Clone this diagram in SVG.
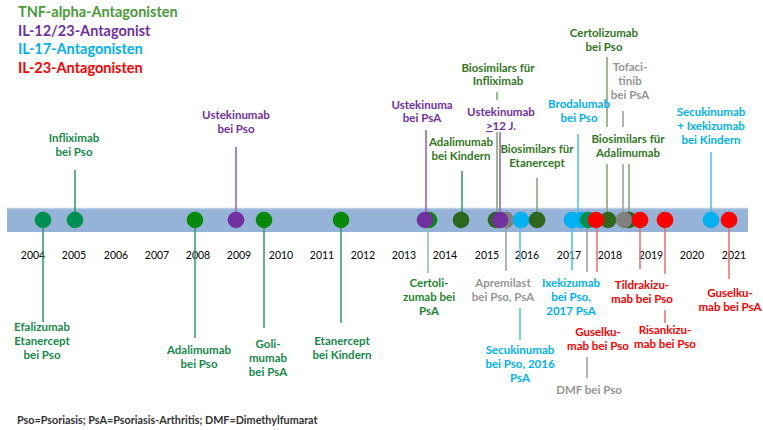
<svg xmlns="http://www.w3.org/2000/svg" width="763" height="430" viewBox="0 0 763 430">
<style>
text{font-family:Lato,"Liberation Sans",sans-serif;font-weight:bold;font-size:11.5px;text-anchor:middle}
.yr{font-weight:normal;font-size:10.5px;fill:#000}
.lg{font-size:14.5px;text-anchor:start}
.tg{fill:#17884A}
.dg{fill:#33761F}
.mg{fill:#25852F}
.pu{fill:#7030A0}
.cy{fill:#00B0F0}
.rd{fill:#FF0000}
.gy{fill:#959595}
line{stroke-width:1.5}
.ltg{stroke:#2A9A62}
.ldg{stroke:#7EA36E}
.lpu{stroke:#8E5CBA}
.lcy{stroke:#45C0EE}
.lrd{stroke:#F26A6A}
.lgy{stroke:#9A9A9A}
.lmg{stroke:#86C39F}
.cteal{fill:#009152}
.cgreen{fill:#078A0A}
.cdg{fill:#2E661C}
.cpu{fill:#7030A0}
.ccy{fill:#00B0F0}
.crd{fill:#FF0000}
.cgy{fill:#808080}
</style>
<g id="legend">
<text class="lg" x="18" y="17" fill="#4A9B3A">TNF-alpha-Antagonisten</text>
<text class="lg pu" x="18" y="36">IL-12/23-Antagonist</text>
<text class="lg cy" x="18" y="54">IL-17-Antagonisten</text>
<text class="lg rd" x="18" y="73">IL-23-Antagonisten</text>
</g>
<g id="timeline">
<rect x="7" y="208" width="741" height="24" fill="#95B3D7"/>
<line x1="7" y1="208.5" x2="748" y2="208.5" stroke="#B9CDE5" stroke-width="1"/>
<text class="yr" x="33" y="259">2004</text>
<text class="yr" x="74" y="259">2005</text>
<text class="yr" x="116" y="259">2006</text>
<text class="yr" x="157" y="259">2007</text>
<text class="yr" x="198" y="259">2008</text>
<text class="yr" x="239" y="259">2009</text>
<text class="yr" x="281" y="259">2010</text>
<text class="yr" x="322" y="259">2011</text>
<text class="yr" x="363" y="259">2012</text>
<text class="yr" x="404" y="259">2013</text>
<text class="yr" x="445" y="259">2014</text>
<text class="yr" x="487" y="259">2015</text>
<text class="yr" x="527" y="259">2016</text>
<text class="yr" x="569" y="259">2017</text>
<text class="yr" x="610" y="259">2018</text>
<text class="yr" x="651" y="259">2019</text>
<text class="yr" x="692" y="259">2020</text>
<text class="yr" x="734" y="259">2021</text>
</g>
<g id="connectors">
<line class="ltg" x1="75" y1="170" x2="75" y2="220"/>
<line class="lpu" x1="236" y1="147" x2="236" y2="220"/>
<line class="lpu" x1="426" y1="130" x2="426" y2="220"/>
<line class="ltg" x1="462" y1="171" x2="462" y2="220"/>
<line class="ldg" x1="497" y1="92" x2="497" y2="100"/>
<line class="ldg" x1="497" y1="132" x2="497" y2="220"/>
<line class="lpu" x1="500" y1="132" x2="500" y2="220"/>
<line class="ldg" x1="537" y1="178" x2="537" y2="220"/>
<line class="lcy" x1="578" y1="134" x2="578" y2="220"/>
<line class="ldg" x1="607" y1="57" x2="607" y2="127"/>
<line class="ldg" x1="607" y1="164" x2="607" y2="220"/>
<line class="lgy" x1="623" y1="111" x2="623" y2="127"/>
<line class="lgy" x1="623" y1="164" x2="623" y2="220"/>
<line class="ldg" x1="629" y1="164" x2="629" y2="220"/>
<line class="lcy" x1="711" y1="152" x2="711" y2="220"/>
<line class="ltg" x1="43" y1="220" x2="43" y2="322"/>
<line class="ltg" x1="195" y1="220" x2="195" y2="338"/>
<line class="ltg" x1="264" y1="220" x2="264" y2="328"/>
<line class="ltg" x1="341" y1="220" x2="341" y2="323"/>
<line class="lmg" x1="428" y1="220" x2="428" y2="273"/>
<line class="lgy" x1="506" y1="220" x2="506" y2="271"/>
<line class="lcy" x1="520" y1="220" x2="520" y2="262"/>
<line class="lcy" x1="520" y1="308" x2="520" y2="340"/>
<line class="lcy" x1="572" y1="220" x2="572" y2="270"/>
<line class="lgy" x1="587" y1="220" x2="587" y2="272"/>
<line class="lgy" x1="587" y1="357" x2="587" y2="378"/>
<line class="lrd" x1="597" y1="220" x2="597" y2="272"/>
<line class="lrd" x1="640" y1="220" x2="640" y2="269"/>
<line class="lrd" x1="665" y1="220" x2="665" y2="274"/>
<line class="lrd" x1="665" y1="310" x2="665" y2="323"/>
<line class="lrd" x1="729" y1="220" x2="729" y2="279"/>
</g>
<g id="efalizumab">
<circle class="cteal" cx="43" cy="220" r="8.3"/>
<text class="tg" x="42" y="331">Efalizumab</text>
<text class="tg" x="42" y="345">Etanercept</text>
<text class="tg" x="42" y="359">bei Pso</text>
</g>
<g id="infliximab">
<circle class="cteal" cx="75" cy="220" r="8.3"/>
<text class="tg" x="74" y="142">Infliximab</text>
<text class="tg" x="74" y="156">bei Pso</text>
</g>
<g id="adalimumab-pso">
<circle class="cgreen" cx="195" cy="220" r="8.3"/>
<text class="tg" x="199" y="354">Adalimumab</text>
<text class="tg" x="199" y="368">bei Pso</text>
</g>
<g id="ustekinumab-pso">
<circle class="cpu" cx="236" cy="220" r="8.3"/>
<text class="pu" x="236" y="119">Ustekinumab</text>
<text class="pu" x="236" y="133">bei Pso</text>
</g>
<g id="golimumab">
<circle class="cgreen" cx="264" cy="220" r="8.3"/>
<text class="tg" x="268" y="348">Goli-</text>
<text class="tg" x="268" y="362">mumab</text>
<text class="tg" x="268" y="376">bei PsA</text>
</g>
<g id="etanercept-kinder">
<circle class="cgreen" cx="341" cy="220" r="8.3"/>
<text class="tg" x="342" y="345">Etanercept</text>
<text class="tg" x="342" y="359">bei Kindern</text>
</g>
<g id="certolizumab-psa">
<circle class="cgreen" cx="429" cy="220" r="8.3"/>
<text class="mg" x="429" y="287">Certoli-</text>
<text class="mg" x="429" y="301">zumab bei</text>
<text class="mg" x="429" y="315">PsA</text>
</g>
<g id="ustekinumab-psa">
<circle class="cpu" cx="425" cy="220" r="8.3"/>
<text class="pu" x="422" y="109">Ustekinuma</text>
<text class="pu" x="422" y="122">bei PsA</text>
</g>
<g id="adalimumab-kinder">
<circle class="cdg" cx="461" cy="220" r="8.3"/>
<text class="dg" x="461" y="146">Adalimumab</text>
<text class="dg" x="461" y="160">bei Kindern</text>
</g>
<g id="biosimilars-infliximab">
<circle class="cdg" cx="496" cy="220" r="8.3"/>
<text class="dg" x="498" y="72">Biosimilars für</text>
<text class="dg" x="498" y="85">Infliximab</text>
</g>
<g id="apremilast">
<circle class="cgy" cx="506" cy="220" r="8.3"/>
<text class="gy" x="503" y="287">Apremilast</text>
<text class="gy" x="503" y="301">bei Pso, PsA</text>
</g>
<g id="ustekinumab-12">
<circle class="cpu" cx="500" cy="220" r="8.3"/>
<text class="pu" x="501" y="116">Ustekinumab</text>
<text class="pu" x="501" y="130"><tspan text-decoration="underline">&gt;</tspan>12 J.</text>
</g>
<g id="secukinumab-pso">
<circle class="ccy" cx="521" cy="220" r="8.3"/>
<text class="cy" x="520" y="354">Secukinumab</text>
<text class="cy" x="520" y="368">bei Pso, 2016</text>
<text class="cy" x="520" y="382">PsA</text>
</g>
<g id="biosimilars-etanercept">
<circle class="cdg" cx="537" cy="220" r="8.3"/>
<text class="dg" x="537" y="153">Biosimilars für</text>
<text class="dg" x="537" y="167">Etanercept</text>
</g>
<g id="ixekizumab">
<circle class="ccy" cx="572" cy="220" r="8.3"/>
<text class="cy" x="571" y="287">Ixekizumab</text>
<text class="cy" x="571" y="301">bei Pso,</text>
<text class="cy" x="571" y="315">2017 PsA</text>
</g>
<g id="brodalumab">
<circle class="ccy" cx="581" cy="220" r="8.3"/>
<text class="cy" x="579" y="108">Brodalumab</text>
<text class="cy" x="579" y="122">bei Pso</text>
</g>
<g id="dmf">
<circle class="cteal" cx="588" cy="220" r="8.3"/>
<text class="gy" x="589" y="394">DMF bei Pso</text>
</g>
<g id="certolizumab-pso">
<circle class="cdg" cx="608" cy="220" r="8.3"/>
<text class="dg" x="604" y="37">Certolizumab</text>
<text class="dg" x="604" y="51">bei Pso</text>
</g>
<g id="guselkumab-pso">
<circle class="crd" cx="596" cy="220" r="8.3"/>
<text class="rd" x="598" y="336">Guselku-</text>
<text class="rd" x="598" y="350">mab bei Pso</text>
</g>
<g id="biosimilars-adalimumab">
<circle class="cdg" cx="629" cy="220" r="8.3"/>
<text class="dg" x="628" y="143">Biosimilars für</text>
<text class="dg" x="628" y="157">Adalimumab</text>
</g>
<g id="tofacitinib">
<circle class="cgy" cx="624" cy="220" r="8.3"/>
<text class="gy" x="630" y="71">Tofaci-</text>
<text class="gy" x="630" y="85">tinib</text>
<text class="gy" x="630" y="99">bei PsA</text>
</g>
<g id="tildrakizumab">
<circle class="crd" cx="640" cy="220" r="8.3"/>
<text class="rd" x="642" y="289">Tildrakizu-</text>
<text class="rd" x="642" y="303">mab bei Pso</text>
</g>
<g id="risankizumab">
<circle class="crd" cx="665" cy="220" r="8.3"/>
<text class="rd" x="665" y="334">Risankizu-</text>
<text class="rd" x="665" y="348">mab bei Pso</text>
</g>
<g id="secukinumab-ixekizumab-kinder">
<circle class="ccy" cx="711" cy="220" r="8.3"/>
<text class="cy" x="711" y="116">Secukinumab</text>
<text class="cy" x="711" y="130">+ Ixekizumab</text>
<text class="cy" x="711" y="144">bei Kindern</text>
</g>
<g id="guselkumab-psa">
<circle class="crd" cx="729" cy="220" r="8.3"/>
<text class="rd" x="730" y="297">Guselku-</text>
<text class="rd" x="730" y="311">mab bei PsA</text>
</g>
<g id="footnote">
<text x="17" y="424" style="text-anchor:start;font-size:10.8px;fill:#333">Pso=Psoriasis; PsA=Psoriasis-Arthritis; DMF=Dimethylfumarat</text>
</g>
</svg>
